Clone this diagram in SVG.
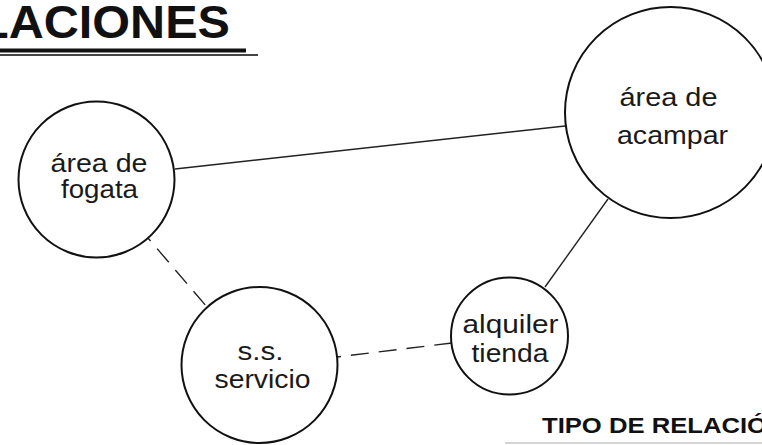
<svg xmlns="http://www.w3.org/2000/svg" width="762" height="445" viewBox="0 0 762 445">
<defs>
<style>
.node{fill:#fff;stroke:#111;stroke-width:2}
.lbl{font-family:"Liberation Sans",Arial,sans-serif;font-size:25px;fill:#1a1a1a;text-anchor:middle}
.solid{stroke:#222;stroke-width:1.4;fill:none}
.dash{stroke:#222;stroke-width:1.4;fill:none;stroke-dasharray:18 10}
.head{font-family:"Liberation Sans",Arial,sans-serif;font-weight:bold;fill:#111}
</style>
</defs>
<rect width="762" height="445" fill="#fff"/>
<g id="title">
<text class="head" x="-21" y="38" font-size="46" textLength="251" lengthAdjust="spacingAndGlyphs">LACIONES</text>
<rect x="0" y="48.5" width="246" height="4" fill="#111"/>
<line x1="0" y1="55" x2="258" y2="55" stroke="#444" stroke-width="2"/>
</g>
<g id="connectors">
<line class="solid" x1="175" y1="169" x2="565" y2="126"/>
<line class="solid" x1="608" y1="199" x2="545" y2="287"/>
<line class="dash" x1="148" y1="238" x2="207" y2="307" stroke-dashoffset="14"/>
<line class="dash" x1="337" y1="357" x2="452" y2="343" stroke-dashoffset="14"/>
</g>
<g id="fogata">
<circle class="node" cx="96.5" cy="179.5" r="78"/>
<text class="lbl" x="99" y="172" textLength="97" lengthAdjust="spacingAndGlyphs">área de</text>
<text class="lbl" x="99.5" y="198" textLength="77" lengthAdjust="spacingAndGlyphs">fogata</text>
</g>
<g id="acampar">
<circle class="node" cx="670.5" cy="112.5" r="105.5"/>
<text class="lbl" x="668.5" y="106" textLength="98" lengthAdjust="spacingAndGlyphs">área de</text>
<text class="lbl" x="672.5" y="144" textLength="111" lengthAdjust="spacingAndGlyphs">acampar</text>
</g>
<g id="servicio">
<circle class="node" cx="259.5" cy="365" r="78"/>
<text class="lbl" x="260.5" y="360" textLength="46" lengthAdjust="spacingAndGlyphs">s.s.</text>
<text class="lbl" x="262.5" y="388" textLength="96" lengthAdjust="spacingAndGlyphs">servicio</text>
</g>
<g id="alquiler">
<circle class="node" cx="509.5" cy="336" r="58.5"/>
<text class="lbl" x="510.5" y="333" textLength="96" lengthAdjust="spacingAndGlyphs">alquiler</text>
<text class="lbl" x="510" y="362" textLength="77" lengthAdjust="spacingAndGlyphs">tienda</text>
</g>
<g id="tipo">
<text class="head" x="542" y="433" font-size="22" textLength="225" lengthAdjust="spacingAndGlyphs">TIPO DE RELACIÓ</text>
<line x1="505" y1="443" x2="762" y2="443" stroke="#aaa" stroke-width="1"/>
</g>
</svg>
